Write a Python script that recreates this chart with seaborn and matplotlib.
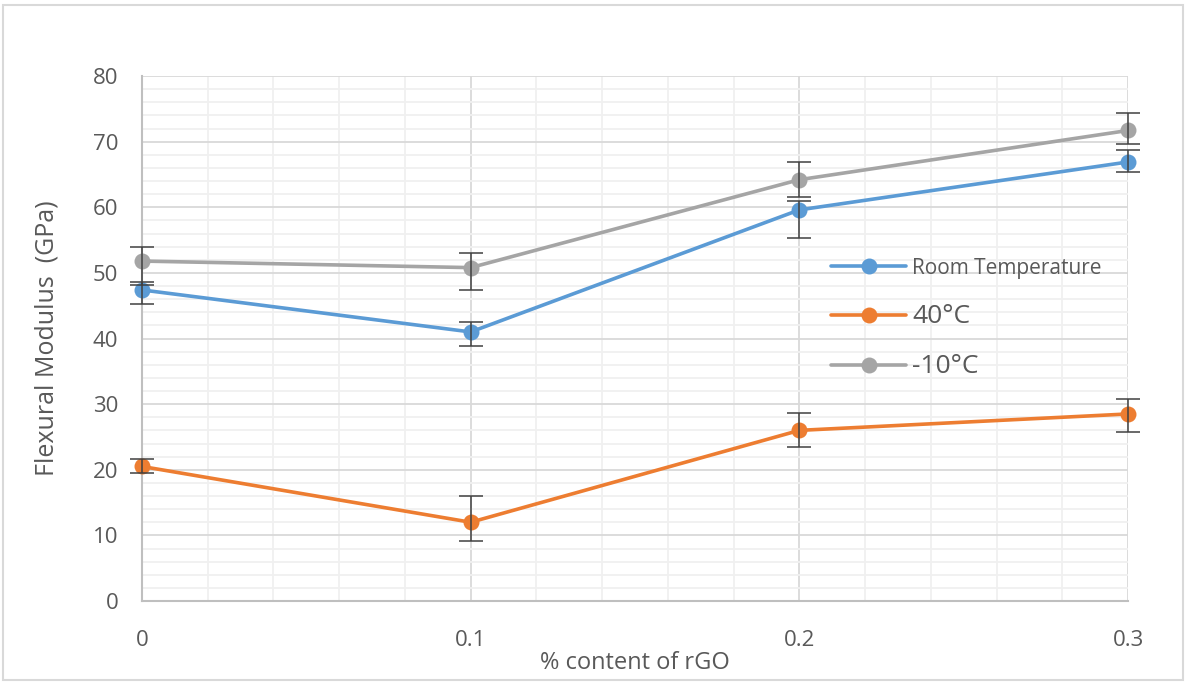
import matplotlib
matplotlib.use("Agg")
import matplotlib.pyplot as plt
import seaborn as sns
import pandas as pd
import numpy as np
from matplotlib.lines import Line2D
from matplotlib.patches import Rectangle
from matplotlib.ticker import MultipleLocator

# ---- data ----
x_vals = [0, 0.1, 0.2, 0.3]
series_names = ["Room Temperature", "40°C", "-10°C"]
room_temp = [47.4, 41.0, 59.6, 66.9]
room_temp_lo = [45.3, 38.9, 55.3, 65.3]
room_temp_hi = [48.6, 42.5, 61.0, 68.8]
temp_40 = [20.5, 12.0, 26.0, 28.5]
temp_40_lo = [19.5, 9.2, 23.5, 25.8]
temp_40_hi = [21.7, 16.0, 28.6, 30.8]
temp_m10 = [51.8, 50.8, 64.2, 71.7]
temp_m10_lo = [48.2, 47.4, 61.6, 69.7]
temp_m10_hi = [53.9, 53.1, 66.9, 74.3]
x_ticks = [0, 0.1, 0.2, 0.3]
x_tick_labels = ["0", "0.1", "0.2", "0.3"]
y_ticks = [0, 10, 20, 30, 40, 50, 60, 70, 80]

colors = {"Room Temperature": "#5B9BD5", "40°C": "#ED7D31", "-10°C": "#A5A5A5"}

sns.set_theme(style="white")
plt.rcParams['font.family'] = ['Open Sans', 'DejaVu Sans']

vals = [room_temp, temp_40, temp_m10]
los = [room_temp_lo, temp_40_lo, temp_m10_lo]
his = [room_temp_hi, temp_40_hi, temp_m10_hi]

df = pd.DataFrame({
    "x": x_vals * 3,
    "y": room_temp + temp_40 + temp_m10,
    "series": sum([[n] * 4 for n in series_names], []),
})

fig = plt.figure(figsize=(11.88, 6.83), dpi=100)
ax = fig.add_axes([142/1188, 1-601/683, (1128-142)/1188, (601-76)/683])

sns.lineplot(data=df, x="x", y="y", hue="series", palette=colors,
             marker="o", markersize=11.5, markeredgewidth=0, linewidth=2.6,
             errorbar=None, legend=False, ax=ax, zorder=3, clip_on=False)

for name, v, lo, hi in zip(series_names, vals, los, his):
    v = np.array(v); lo = np.array(lo); hi = np.array(hi)
    cont = ax.errorbar(x_vals, v, yerr=[v - lo, hi - v], fmt="none", ecolor="#404040",
                       elinewidth=1.1, capsize=8.5, capthick=1.1, zorder=4)
    for art in cont.get_children():
        art.set_clip_on(False)

ax.set_xlim(0, 0.3)
ax.set_ylim(0, 80)
ax.set_xticks(x_ticks)
ax.set_xticklabels(x_tick_labels)
ax.set_yticks(y_ticks)
ax.xaxis.set_minor_locator(MultipleLocator(0.02))
ax.yaxis.set_minor_locator(MultipleLocator(2))
ax.grid(which="major", color="#d9d9d9", linewidth=1.3, zorder=0)
ax.grid(which="minor", color="#f0f0f0", linewidth=1.3, zorder=0)
ax.set_axisbelow(True)
for s in ["top", "right"]:
    ax.spines[s].set_visible(False)
for s in ["left", "bottom"]:
    ax.spines[s].set_color("#bfbfbf")
    ax.spines[s].set_linewidth(1.5)
ax.tick_params(axis="both", which="both", length=0, colors="#595959", labelsize=16)
ax.tick_params(axis="x", pad=21)
ax.tick_params(axis="y", pad=17)

ax.set_xlabel("% content of rGO", fontsize=17, color="#595959", labelpad=0)
ax.set_ylabel("Flexural Modulus  (GPa)", fontsize=18, color="#595959", labelpad=24)

handles = [Line2D([0], [0], color=colors[n], linewidth=2.6, marker="o",
                  markersize=11.5, markeredgewidth=0) for n in series_names]
leg = ax.legend(handles, series_names, loc="upper left",
                bbox_to_anchor=(0.68, 0.69), frameon=False,
                handlelength=3.6, handletextpad=0.3, labelspacing=1.2,
                fontsize=15)
for t, fs in zip(leg.get_texts(), [15, 19, 19]):
    t.set_fontsize(fs)
    t.set_color("#595959")

fig.patches.append(Rectangle((3/1188, 3/683), 1180/1188, 675/683,
                             transform=fig.transFigure, fill=False,
                             edgecolor="#d9d9d9", linewidth=1.5))

fig.savefig("out.png", dpi=100)
